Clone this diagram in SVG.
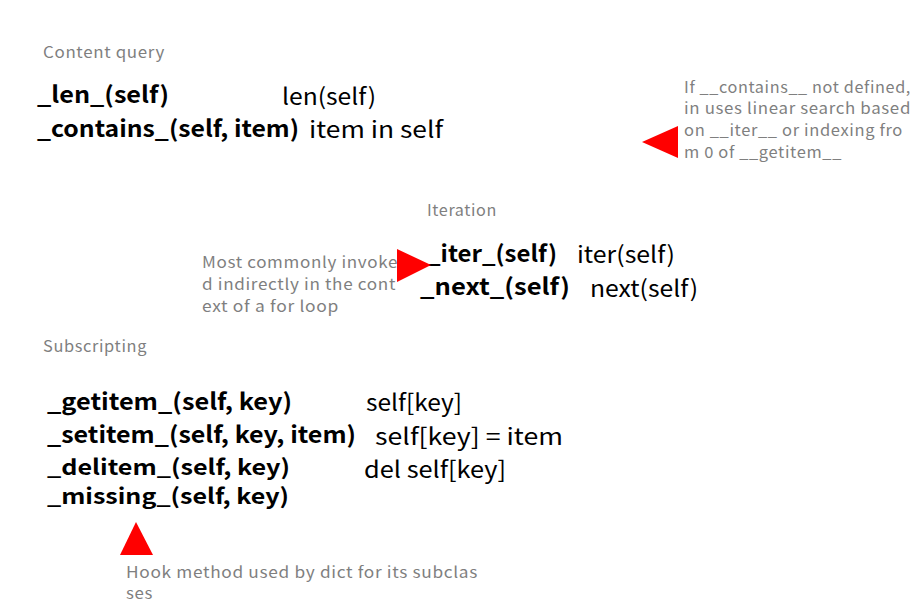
<svg xmlns="http://www.w3.org/2000/svg" width="918" height="606" viewBox="0 0 918 606">
<style>
.t{font-family:"Noto Sans CJK KR","Noto Sans",sans-serif;fill:#7f7f7f;font-size:15.5px;letter-spacing:0.6px}
.m{font-family:"Noto Sans CJK KR","Noto Sans",sans-serif;fill:#000;font-size:23px;font-weight:bold}
.u{font-family:"Noto Sans CJK KR","Noto Sans",sans-serif;fill:#000;font-size:23px}
.p{fill:#ff0000}
</style>
<rect width="918" height="606" fill="#fff"/>
<g id="content-query">
<text class="t" x="43" y="58" textLength="122" lengthAdjust="spacingAndGlyphs">Content query</text>
<text class="m" x="37" y="103" textLength="132" lengthAdjust="spacingAndGlyphs">_len_(self)</text>
<text class="u" x="282" y="105" textLength="94" lengthAdjust="spacingAndGlyphs">len(self)</text>
<text class="m" x="37" y="137" textLength="262" lengthAdjust="spacingAndGlyphs">_contains_(self, item)</text>
<text class="u" x="309" y="138" textLength="134" lengthAdjust="spacingAndGlyphs">item in self</text>
</g>
<g id="note-contains">
<text class="t" x="684" y="93" textLength="227" lengthAdjust="spacingAndGlyphs">If __contains__ not defined,</text>
<text class="t" x="684" y="114" textLength="227" lengthAdjust="spacingAndGlyphs">in uses linear search based</text>
<text class="t" x="684" y="136" textLength="219" lengthAdjust="spacingAndGlyphs">on __iter__ or indexing fro</text>
<text class="t" x="684" y="158" textLength="158" lengthAdjust="spacingAndGlyphs">m 0 of __getitem__</text>
</g>
<g id="iteration">
<text class="t" x="427" y="216" textLength="70" lengthAdjust="spacingAndGlyphs">Iteration</text>
<text class="m" x="427" y="262" textLength="130" lengthAdjust="spacingAndGlyphs">_iter_(self)</text>
<text class="u" x="577" y="263" textLength="98" lengthAdjust="spacingAndGlyphs">iter(self)</text>
<text class="m" x="420" y="295" textLength="150" lengthAdjust="spacingAndGlyphs">_next_(self)</text>
<text class="u" x="590" y="297" textLength="108" lengthAdjust="spacingAndGlyphs">next(self)</text>
</g>
<g id="note-iter">
<text class="t" x="202" y="268" textLength="196" lengthAdjust="spacingAndGlyphs">Most commonly invoke</text>
<text class="t" x="202" y="290" textLength="194" lengthAdjust="spacingAndGlyphs">d indirectly in the cont</text>
<text class="t" x="202" y="312" textLength="137" lengthAdjust="spacingAndGlyphs">ext of a for loop</text>
</g>
<g id="subscripting">
<text class="t" x="43" y="352" textLength="104" lengthAdjust="spacingAndGlyphs">Subscripting</text>
<text class="m" x="47" y="410" textLength="245" lengthAdjust="spacingAndGlyphs">_getitem_(self, key)</text>
<text class="u" x="366" y="411" textLength="96" lengthAdjust="spacingAndGlyphs">self[key]</text>
<text class="m" x="47" y="443" textLength="309" lengthAdjust="spacingAndGlyphs">_setitem_(self, key, item)</text>
<text class="u" x="375" y="445" textLength="188" lengthAdjust="spacingAndGlyphs">self[key] = item</text>
<text class="m" x="47" y="475" textLength="243" lengthAdjust="spacingAndGlyphs" style="font-size:21.5px">_delitem_(self, key)</text>
<text class="u" x="364" y="478" textLength="142" lengthAdjust="spacingAndGlyphs">del self[key]</text>
<text class="m" x="47" y="504" textLength="242" lengthAdjust="spacingAndGlyphs" style="font-size:21.5px">_missing_(self, key)</text>
</g>
<g id="note-missing">
<text class="t" x="126" y="578" textLength="352" lengthAdjust="spacingAndGlyphs">Hook method used by dict for its subclas</text>
<text class="t" x="126" y="599" textLength="27" lengthAdjust="spacingAndGlyphs">ses</text>
</g>
<g id="connectors">
<polygon class="p" points="642,142 678,126 678,158"/>
<polygon class="p" points="397,249 431,265 397,282"/>
<polygon class="p" points="136,522 153,555 120,555"/>
</g>
</svg>
